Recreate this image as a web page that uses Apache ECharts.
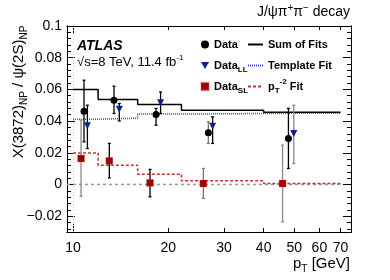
<!DOCTYPE html>
<html><head><meta charset="utf-8">
<script src="https://cdn.jsdelivr.net/npm/echarts@6/dist/echarts.min.js"></script>
<style>html,body{margin:0;padding:0;background:#fff}#c{width:390px;height:280px}</style>
</head><body><div id="c"></div>
<script>
// ---- data ----
const binEdges = [10, 12, 16, 22, 40, 70];
const sumFit = [0.0599, 0.0536, 0.0505, 0.0469, 0.0455];
const templateFit = [0.0412, 0.0418, 0.0444, 0.0448, 0.0450];
const ptFit = [0.0199, 0.0122, 0.0065, 0.0023, 0.0006];

const dataPt = [10.83, 13.47, 18.29, 26.75, 47.9];
const dataVal = [0.0462, 0.0532, 0.0442, 0.0326, 0.0290];
const dataLo = [0.0269, 0.0448, 0.0374, 0.0259, 0.0101];
const dataHi = [0.0658, 0.0620, 0.0480, 0.0395, 0.0480];

const llPt = [11.1, 14.0, 18.9, 27.6, 49.8];
const llVal = [0.0370, 0.0475, 0.0515, 0.0368, 0.0322];
const llLo = [0.0227, 0.0401, 0.0448, 0.0259, 0.0132];
const llHi = [0.0500, 0.0511, 0.0584, 0.0427, 0.0500];

const slPt = [10.6, 13.02, 17.5, 25.8, 45.9];
const slVal = [0.0164, 0.0149, 0.0010, 0.0006, 0.0006];
const slLo = [-0.0074, 0.0042, -0.0078, -0.0088, -0.0236];
const slHi = [0.0406, 0.0259, 0.0095, 0.0101, 0.0248];

const xTickLabels = [10, 20, 30, 40, 50, 60, 70];
const yTickLabels = [-0.02, 0, 0.02, 0.04, 0.06, 0.08, 0.1];
const X_MIN = 9.57, X_MAX = 75.5, Y_MIN = -0.03, Y_MAX = 0.1;

// ---- styles ----
const dataErrColor = ['#000', '#000', '#000', '#777', '#000'];
const llErrColor = ['#000', '#000', '#000', '#000', '#888'];
const slErrColor = ['#888', '#000', '#000', '#777', '#888'];
const FONT = 'Liberation Sans';

function steps(vals) {
  const d = vals.map((v, i) => [binEdges[i], v]);
  d.push([binEdges[binEdges.length - 1], vals[vals.length - 1]]);
  return d;
}
function errData(pt, lo, hi, colors) {
  return pt.map((p, i) => ({ value: [p, lo[i], hi[i]], c: colors[i] }));
}
function errSeries(name, d) {
  return {
    type: 'custom', name: name, z: 3, silent: true,
    renderItem: function (params, api) {
      const x = api.value(0);
      const a = api.coord([x, api.value(1)]);
      const b = api.coord([x, api.value(2)]);
      const col = d[params.dataIndex].c;
      return { type: 'group', children: [
        { type: 'line', shape: { x1: a[0], y1: a[1], x2: b[0], y2: b[1] }, style: { stroke: col, lineWidth: 1.3 } },
        { type: 'line', shape: { x1: a[0] - 1.5, y1: a[1], x2: a[0] + 1.5, y2: a[1] }, style: { stroke: col, lineWidth: 1.3 } },
        { type: 'line', shape: { x1: b[0] - 1.5, y1: b[1], x2: b[0] + 1.5, y2: b[1] }, style: { stroke: col, lineWidth: 1.3 } }
      ] };
    },
    encode: { x: 0, y: [1, 2] },
    data: d
  };
}
const minorY = [];
for (let k = -7; k <= 25; k++) { const v = Math.round(k * 0.004 * 10000) / 10000; if (Math.abs(v / 0.02 - Math.round(v / 0.02)) > 1e-6) minorY.push(v); }
const majorY = yTickLabels;
const minorX = xTickLabels.slice(1);

const yFmt = v => { const r = Math.round(v * 100) / 100; return r === 0 ? '0' : String(r).replace('-', '\u2212'); };

function yAx(pos, ticks, len, labels) {
  return {
    type: 'value', position: pos, min: Y_MIN, max: Y_MAX,
    axisLine: { show: true, onZero: false, lineStyle: { color: '#000', width: 1 } },
    axisTick: { show: true, inside: true, length: len, customValues: ticks, lineStyle: { color: '#000', width: 1 } },
    axisLabel: labels ? { show: true, customValues: majorY, formatter: yFmt, margin: 5, fontSize: 14, color: '#000', fontFamily: FONT } : { show: false },
    splitLine: { show: false }
  };
}
function xAx(pos, ticks, len, labels) {
  return {
    type: 'log', logBase: 10, position: pos, min: X_MIN, max: X_MAX,
    axisLine: { show: true, onZero: false, lineStyle: { color: '#000', width: 1 } },
    axisTick: { show: true, inside: true, length: len, customValues: ticks, lineStyle: { color: '#000', width: 1 } },
    axisLabel: labels ? { show: true, customValues: xTickLabels, margin: 9, fontSize: 14, color: '#000', fontFamily: FONT } : { show: false },
    splitLine: { show: false }, minorTick: { show: false }
  };
}

const chart = echarts.init(document.getElementById('c'), null, { renderer: 'canvas' });
const legendRich = {
  sub: { fontSize: 8, fontWeight: 'bold', lineHeight: 8, verticalAlign: 'bottom', fontFamily: FONT },
  sup: { fontSize: 8, fontWeight: 'bold', lineHeight: 8, verticalAlign: 'top', fontFamily: FONT }
};
const legendNames = {
  'Data': 'Data', 'DataLL': 'Data{sub|LL}', 'DataSL': 'Data{sub|SL}',
  'Sum of Fits': 'Sum of Fits', 'Template Fit': 'Template Fit', 'ptfit': 'p{sub|T}{sup|-2} Fit'
};
const legendText = { fontSize: 11, fontWeight: 'bold', color: '#000', fontFamily: FONT, lineHeight: 17, rich: legendRich };

chart.setOption({
  animation: false,
  grid: { left: 67, right: 39, top: 26, bottom: 48, show: false },
  xAxis: [xAx('bottom', [10], 8, true), xAx('bottom', minorX, 4, false), xAx('top', [10], 8, false), xAx('top', minorX, 4, false)],
  yAxis: [yAx('left', majorY, 8, true), yAx('left', minorY, 4, false), yAx('right', majorY, 8, false), yAx('right', minorY, 4, false)],
  legend: [
    { left: 200, top: 36, padding: 0, orient: 'vertical', itemGap: 4, itemWidth: 8, itemHeight: 8,
      data: ['Data', { name: 'DataLL', icon: 'path://M0,0 L10,0 L5,9 Z' }, 'DataSL'], formatter: n => legendNames[n], textStyle: legendText },
    { left: 247, top: 36, padding: 0, orient: 'vertical', itemGap: 4, itemWidth: 15, itemHeight: 8, data: ['Sum of Fits', 'Template Fit', 'ptfit'],
      itemStyle: { opacity: 0 }, formatter: n => legendNames[n], textStyle: legendText }
  ],
  graphic: [
    { type: 'text', x: 350, y: 12, style: { text: 'J/\u03c8\u03c0{sup|+}\u03c0{sup|\u2212} decay', font: '14px "Liberation Sans"', fill: '#000',
      align: 'right', verticalAlign: 'middle', rich: { sup: { fontSize: 10, verticalAlign: 'top', lineHeight: 10 } }, lineHeight: 17 } },
    { type: 'text', left: 77, top: 39, style: { text: 'ATLAS', font: 'italic bold 14px "Liberation Sans"', fill: '#000' } },
    { type: 'text', left: 77, top: 54, style: { text: '\u221as=8 TeV, 11.4 fb{sup|-1}', font: '13px "Liberation Sans"', fill: '#000',
      rich: { sup: { fontSize: 8, verticalAlign: 'top', lineHeight: 8 } }, lineHeight: 16 } },
    { type: 'text', x: 350, y: 264, style: { text: 'p{sub|T} [GeV]', font: '15px "Liberation Sans"', fill: '#000',
      align: 'right', verticalAlign: 'middle', rich: { sub: { fontSize: 10, verticalAlign: 'bottom', lineHeight: 10 } }, lineHeight: 20 } },
    { type: 'text', x: 19, y: 92, rotation: Math.PI / 2, style: { text: 'X(3872){sub|NP} / \u03c8(2S){sub|NP}', font: '15px "Liberation Sans"', fill: '#000',
      align: 'center', verticalAlign: 'middle', rich: { sub: { fontSize: 10, verticalAlign: 'bottom', lineHeight: 10 } }, lineHeight: 20 } }
  ],
  series: [
    { type: 'line', name: 'zero', data: [[X_MIN, 0], [70, 0]], symbol: 'none', silent: true, z: 1,
      lineStyle: { color: '#999', width: 1.5, type: [3, 3] },
      markLine: { silent: true, symbol: 'none', label: { show: false }, lineStyle: { color: '#ccc', width: 1, type: [1, 2] }, data: [{ xAxis: 10 }] } },
    { type: 'line', name: 'Template Fit', data: steps(templateFit), step: 'end', symbol: 'none', z: 2, color: '#3444d8',
      lineStyle: { color: '#3444d8', width: 1.5, type: [1, 1] } },
    { type: 'line', name: 'Sum of Fits', data: steps(sumFit), step: 'end', symbol: 'none', z: 2, color: '#000',
      lineStyle: { color: '#000', width: 1.5 } },
    { type: 'line', name: 'ptfit', data: steps(ptFit), step: 'end', symbol: 'none', z: 2, color: '#c83030',
      lineStyle: { color: '#c83030', width: 1.5, type: [3, 2] } },
    errSeries('errData', errData(dataPt, dataLo, dataHi, dataErrColor)),
    errSeries('errLL', errData(llPt, llLo, llHi, llErrColor)),
    errSeries('errSL', errData(slPt, slLo, slHi, slErrColor)),
    { type: 'scatter', name: 'Data', data: dataPt.map((p, i) => [p, dataVal[i]]), symbol: 'circle', symbolSize: 7, z: 5,
      itemStyle: { color: '#000', opacity: 1 } },
    { type: 'scatter', name: 'DataLL', data: llPt.map((p, i) => [p, llVal[i]]), symbol: 'triangle', symbolRotate: 180, symbolSize: 7, z: 5,
      itemStyle: { color: '#0c1f96', opacity: 1 } },
    { type: 'scatter', name: 'DataSL', data: slPt.map((p, i) => [p, slVal[i]]), symbol: 'rect', symbolSize: 7, z: 5,
      itemStyle: { color: '#a00000', opacity: 1, borderColor: 'rgba(210,110,110,0.3)', borderWidth: 1 } }
  ]
});
</script></body></html>
